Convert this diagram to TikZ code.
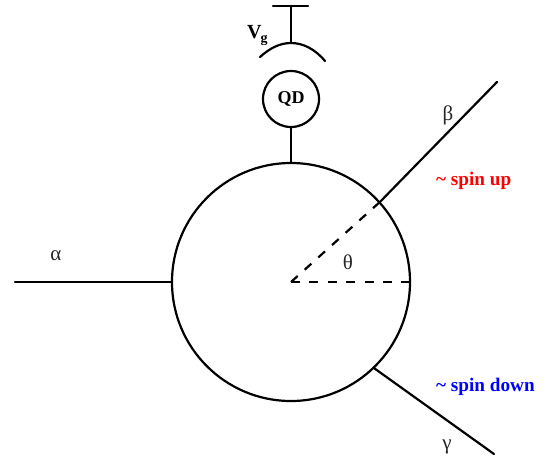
\documentclass[tikz,border=0pt]{standalone}
\usepackage{fontspec}
\setmainfont{Liberation Serif}
\tikzset{
  wire/.style={line width=2.2pt,line cap=round},
  hole/.style={circle,draw,line width=2.2pt,inner sep=0pt},
  dashwire/.style={line width=2.2pt,dash pattern=on 9pt off 9.4pt},
  greek/.style={inner sep=0pt,font=\fontsize{21}{21}\selectfont,text=black!85},
  spin/.style={inner sep=0pt,anchor=west,font=\fontsize{19.2}{19}\selectfont\bfseries},
}
\begin{document}
\begin{tikzpicture}[x=1pt,y=-1pt]
\useasboundingbox (0,0) rectangle (550,459);
\node[hole,minimum size=238pt] (ring) at (291,282) {};
\node[hole,minimum size=56pt,font=\fontsize{18}{18}\selectfont\bfseries] (qd) at (291,99) {QD};
\coordinate (centre) at (291,282);
\coordinate (alphaend) at (15,282);
\coordinate (betaend) at (497,82);
\coordinate (gammaend) at (494,454);
\coordinate (gatetop) at (291,43);
\coordinate (gatel) at (260,57);
\coordinate (gater) at (325,61);
\coordinate (stem) at (291,6);
\coordinate (barl) at (273,6);
\coordinate (barr) at (308,6);
\draw[wire] (alphaend) -- (ring.west);
\draw[wire] (ring.42.6) -- (betaend);
\draw[wire] (ring.-46.4) -- (gammaend);
\draw[wire] (qd.south) -- (ring.north);
\draw[dashwire] (centre) -- (ring.42.6);
\draw[dashwire] (centre) -- (ring.east);
\draw[wire] (gatetop) -- (stem);
\draw[wire] (barl) -- (barr);
\draw[wire] (gatel) .. controls (270,48) and (280,43) .. (gatetop) .. controls (303,43) and (315,49) .. (gater);
\node[greek] (alpha) at (56,256) {α};
\node[greek] (beta) at (448,115) {β};
\node[greek] (gamma) at (447,447) {γ};
\node[greek] (theta) at (348,262) {θ};
\node[inner sep=0pt,anchor=base west,font=\fontsize{20}{20}\selectfont\bfseries] (vg) at (247,38) {V\kern-1pt\raisebox{-4pt}{\fontsize{14}{14}\selectfont g}};
\node[spin,text=red] (up) at (436,181) {\textasciitilde{} spin up};
\node[spin,text=blue] (down) at (436,387) {\textasciitilde{} spin down};
\end{tikzpicture}
\end{document}
